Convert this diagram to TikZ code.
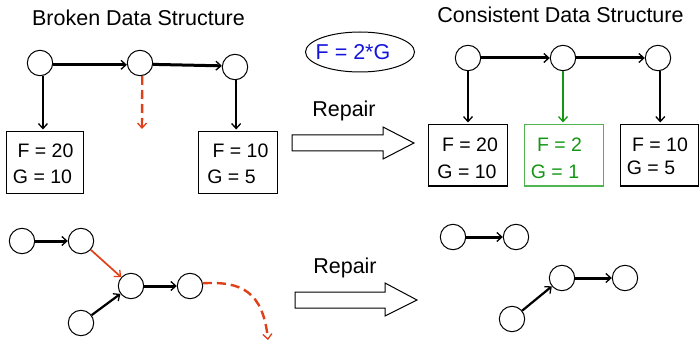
\documentclass[tikz,border=0pt]{standalone}
\usepackage{fontspec}
\setmainfont{Liberation Sans}
\usetikzlibrary{arrows.meta,shapes.geometric}

\definecolor{brokenred}{RGB}{224,64,24}
\definecolor{fixblue}{RGB}{20,20,220}
\definecolor{fixgreen}{RGB}{20,150,20}
\definecolor{fixgreenbox}{RGB}{80,180,80}

\tikzset{
  nd/.style={circle, draw, line width=1pt, minimum size=25.4pt, inner sep=0pt},
  recbox/.style={draw, line width=1pt, minimum width=79pt, minimum height=61pt, inner sep=0pt},
  lbl/.style={font=\fontsize{19.5}{22}\selectfont, inner sep=0pt},
  ttl/.style={font=\fontsize{21.5}{24}\selectfont, inner sep=0pt, anchor=base},
  tip/.style={-{Straight Barb[length=5pt,width=9pt,line width=1.3pt 0 1]}},
  strong/.style={tip, line width=3pt},
  link/.style={tip, line width=1.7pt},
  bad/.style={tip, line width=2.4pt, dash pattern=on 9pt off 5pt, brokenred},
  blockarrow/.style={draw, line width=1pt, fill=white, line join=miter}
}

\begin{document}
\begin{tikzpicture}[x=1pt, y=-1pt]
\useasboundingbox (0,0) rectangle (699,342);

% ---- broken structure (top left)
\node[ttl] (tb) at (138.5,26) {Broken Data Structure};
\node[nd] (a1) at (40,63) {};
\node[nd] (a2) at (140,63) {};
\node[nd] (a3) at (235,67) {};
\node[recbox, minimum width=77pt] (b1) at (44.5,162.5) {};
\node[recbox] (b2) at (237.5,162.5) {};
\node[lbl] (b1f) at (45.5,151) {F = 20};
\node[lbl] (b1g) at (42.5,177) {G = 10};
\node[lbl] (b2f) at (240.5,151) {F = 10};
\node[lbl] (b2g) at (231.5,177) {G = 5};
\coordinate (lost) at (142,129);

\draw[strong] (a1.-8) -- (a2.188);
\draw[strong] (a2.-6) -- (a3.175);
\draw[link, shorten >=2pt] (a1.-77) -- (a1.-77 |- b1.north);
\draw[link, shorten >=2pt] (a3.-85) -- (a3.-85 |- b2.north);
\draw[bad] (a2.-80) -- (lost);

% ---- constraint
\node[draw, ellipse, line width=1pt, minimum width=109pt, minimum height=40pt, inner sep=0pt] (cons) at (360,52) {};
\node[font=\fontsize{21.5}{24}\selectfont, inner sep=0pt, text=fixblue] (consf) at (353,52) {F = 2*G};

% ---- repair arrows
\node[ttl] (rep1) at (344,117) {Repair};
\draw[blockarrow] (292,135) -- (383,135) -- (383,127) -- (414,143) -- (383,159) -- (383,151) -- (292,151) -- cycle;
\node[ttl] (rep2) at (345,273) {Repair};
\draw[blockarrow] (295,292) -- (385,292) -- (385,283) -- (417,300) -- (385,316) -- (385,308) -- (295,308) -- cycle;

% ---- consistent structure (top right)
\node[ttl] (tc) at (560.5,23) {Consistent Data Structure};
\node[nd] (c1) at (468,58) {};
\node[nd] (c2) at (563,58) {};
\node[nd] (c3) at (658,58) {};
\node[recbox] (d1) at (467.5,155.5) {};
\node[recbox, draw=fixgreenbox] (d2) at (563.5,155.5) {};
\node[recbox, minimum width=78pt] (d3) at (659,155.5) {};
\node[lbl] (d1f) at (470,145) {F = 20};
\node[lbl] (d1g) at (467,172) {G = 10};
\node[lbl, text=fixgreen] (d2f) at (559.5,145) {F = 2};
\node[lbl, text=fixgreen] (d2g) at (555,172) {G = 1};
\node[lbl] (d3f) at (660,145) {F = 10};
\node[lbl] (d3g) at (651,168) {G = 5};

\draw[strong] (c1) -- (c2);
\draw[strong] (c2) -- (c3);
\draw[link, shorten >=2pt] (c1.south) -- (c1.south |- d1.north);
\draw[link, fixgreen, shorten >=2pt] (c2.south) -- (c2.south |- d2.north);
\draw[link, shorten >=2pt] (c3.-80) -- (c3.-80 |- d3.north);

% ---- broken list (bottom left)
\node[nd] (e1) at (22,241) {};
\node[nd] (e2) at (81,241) {};
\node[nd] (e3) at (131,286) {};
\node[nd] (e4) at (190,286) {};
\node[nd] (e5) at (81,323) {};
\coordinate (gone) at (268,340);

\draw[strong] (e1) -- (e2);
\draw[link, brokenred] (e2) -- (e3);
\draw[tip, line width=2.2pt] (e5) -- (e3);
\draw[strong] (e3) -- (e4);
\draw[bad] (e4.12) .. controls (242,281) and (263,292) .. (gone);

% ---- repaired lists (bottom right)
\node[nd] (f1) at (453,237) {};
\node[nd] (f2) at (516,237) {};
\node[nd] (f3) at (562,278) {};
\node[nd] (f4) at (625,278) {};
\node[nd] (f5) at (512,319) {};

\draw[strong] (f1) -- (f2);
\draw[tip, line width=2.2pt] (f5) -- (f3);
\draw[strong] (f3) -- (f4);
\end{tikzpicture}
\end{document}
